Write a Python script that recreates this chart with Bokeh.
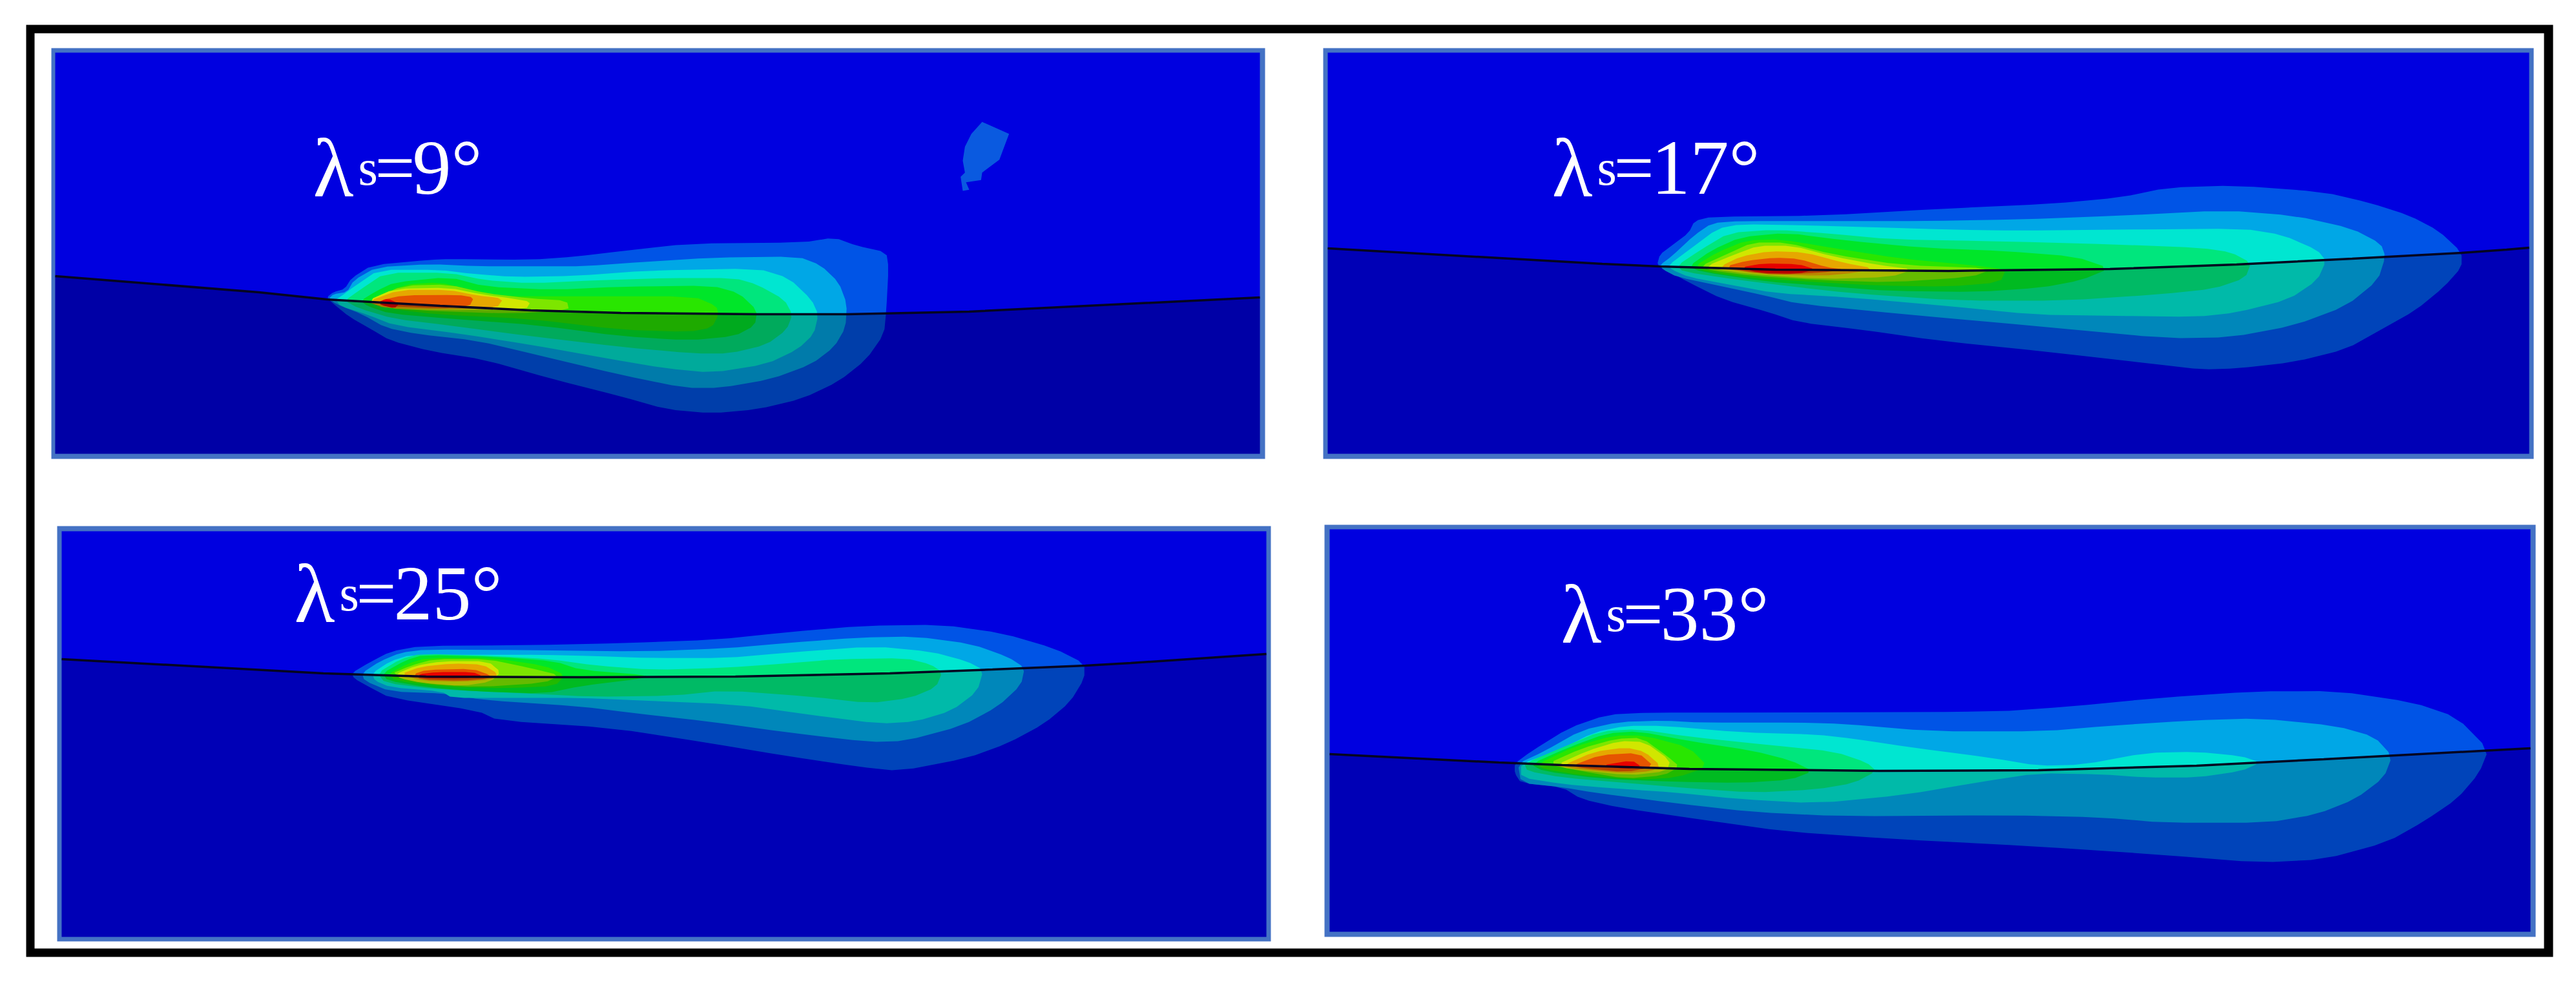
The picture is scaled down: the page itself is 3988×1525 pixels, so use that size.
from bokeh.plotting import figure
from bokeh.models import Range1d
from bokeh.core.properties import value
from bokeh.embed import file_html
from bokeh.resources import INLINE

# Stress-level colours (outer to peak)
LEVEL_COLORS = ["#0054E6", "#00A7E6", "#00E6D1", "#00E67D", "#00E629", "#29E600",
                "#7DE600", "#D1E600", "#E6A700", "#E65400", "#E60000"]
BACKGROUND = "#0000E0"
BORDER = "#4472C4"

LABELS = ["9°", "17°", "25°", "33°"]

# Panel 1 (lambda_s = 9) contours
P1_L1 = [(150,390),(165,365),(190,350),(205,300),(250,240),(380,215),(420,212),(600,215),(700,200),(800,175),(950,140),(1200,135),(1270,112),(1320,150),(1385,180),(1390,250),(1385,450),(1380,560),(1340,680),(1280,780),(1200,860),(1100,910),(1000,928),(900,910),(800,850),(650,770),(500,680),(380,640),(290,590),(250,540),(200,480),(165,420)]
P1_L2 = [(155,395),(165,375),(195,365),(210,310),(260,250),(380,235),(480,245),(620,245),(720,245),(850,225),(1000,205),(1190,200),(1240,240),(1280,320),(1298,420),(1295,530),(1270,620),(1220,700),(1130,770),(1020,810),(940,810),(800,750),(620,660),(480,590),(350,560),(280,530),(230,470),(170,420)]
P1_L3 = [(170,400),(185,380),(210,340),(265,262),(400,262),(470,280),(560,295),(700,290),(860,265),(1100,255),(1170,300),(1220,400),(1235,470),(1225,560),(1190,630),(1120,700),(1000,740),(900,720),(760,670),(600,610),(450,560),(300,520),(240,470),(180,430)]
P1_L4 = [(190,405),(220,360),(280,275),(420,275),(500,310),(600,325),(750,310),(900,300),(1050,300),(1100,330),(1160,400),(1178,470),(1165,540),(1120,610),(1040,650),(960,650),(800,620),(600,570),(420,520),(300,490),(220,440)]
P1_L5 = [(225,405),(260,360),(300,320),(420,295),(500,340),(650,355),(800,340),(1000,335),(1060,370),(1100,450),(1095,520),(1050,570),(950,590),(800,570),(620,520),(430,490),(290,465),(240,430)]
P1_L6 = [(250,400),(320,330),(400,320),(460,350),(540,385),(700,385),(960,385),(1010,430),(1015,470),(1000,530),(950,550),(800,540),(600,490),(400,470),(280,440)]
P1_L7 = [(245,400),(320,335),(420,330),(500,370),(600,395),(680,405),(685,450),(560,465),(400,455),(290,440)]
P1_L8 = [(240,405),(300,350),(420,345),(490,375),(560,395),(600,410),(590,445),(400,450),(280,440)]
P1_L9 = [(240,410),(310,355),(420,355),(480,380),(540,395),(525,440),(400,445),(280,440)]
P1_L10 = [(265,405),(320,380),(440,378),(475,390),(465,432),(400,440),(280,430)]
P1_L11 = [(265,410),(285,395),(310,420),(300,440),(270,425)]
P1_BLOB = [(240,85),(365,140),(320,260),(240,320),(235,355),(165,365),(180,400),(150,405),(140,340),(160,320),(150,265),(160,200),(190,140)]

# Panel 2 (lambda_s = 17)
P2_L1 = [(95,330),(100,280),(120,240),(150,180),(160,125),(190,105),(380,100),(590,68),(780,45),(900,15),(980,-30),(1100,-40),(1250,-10),(1330,40),(1400,100),(1450,170),(1490,270),(1490,340),(1460,430),(1410,540),(1350,630),(1290,720),(1200,780),(1100,810),(1040,815),(960,790),(780,735),(580,680),(450,630),(340,595),(290,550),(210,490),(150,410),(110,350)]
P2_L2 = [(100,330),(120,290),(160,190),(190,135),(240,125),(420,125),(560,125),(720,118),(900,100),(1080,75),(1200,100),(1300,160),(1350,230),(1358,290),(1345,400),(1290,520),(1200,610),(1090,665),(980,670),(760,615),(530,560),(340,510),(280,470),(210,430),(130,385),(105,350)]
P2_L3 = [(115,330),(150,260),(200,160),(240,140),(350,145),(480,155),(600,165),(720,170),(900,165),(1110,160),(1180,190),(1240,260),(1255,310),(1240,400),(1190,490),(1100,550),(1030,570),(880,565),(750,560),(600,520),(430,480),(300,460),(220,420),(150,385),(120,350)]
P2_L4 = [(130,332),(170,260),(220,180),(300,165),(400,185),(500,210),(700,220),(900,235),(1040,250),(1090,270),(1125,320),(1115,390),(1060,440),(970,465),(800,495),(620,495),(430,460),(330,430),(240,400),(140,360)]
P2_L5 = [(150,335),(190,260),(240,200),(320,180),(420,215),(560,250),(700,265),(820,290),(880,345),(830,400),(760,435),(650,455),(500,450),(400,430),(280,405),(170,360)]
P2_L6 = [(160,335),(200,270),(250,215),(310,210),(400,250),(520,300),(640,330),(700,350),(690,410),(600,430),(480,425),(380,410),(260,390),(180,360)]
P2_L7 = [(170,335),(215,280),(260,225),(320,225),(400,280),(520,330),(680,345),(640,385),(500,410),(380,400),(260,380),(190,355)]
P2_L8 = [(180,335),(230,280),(270,240),(330,240),(400,290),(480,330),(540,350),(500,385),(380,395),(250,370),(200,350)]
P2_L9 = [(205,335),(240,290),(290,265),(350,270),(420,320),(470,345),(440,365),(380,380),(270,370),(220,350)]
P2_L10 = [(215,335),(250,310),(300,295),(340,300),(390,340),(420,350),(380,365),(300,375),(240,355)]
P2_L11 = [(240,340),(280,322),(340,325),(370,350),(340,370),(270,365)]

# Panel 3 (lambda_s = 25)
P3_L1 = [(55,335),(90,285),(130,235),(190,208),(400,205),(590,195),(760,180),(900,145),(1050,115),(1200,110),(1320,150),(1420,220),(1478,290),(1478,360),(1450,470),(1400,570),(1330,660),(1250,730),(1120,790),(1040,770),(900,720),(750,660),(560,590),(340,555),(300,510),(130,450),(90,400),(60,360)]
P3_L2 = [(75,335),(110,280),(150,240),(200,225),(400,228),(620,235),(780,220),(900,195),(1040,170),(1150,165),(1260,200),(1330,260),(1362,310),(1355,390),(1310,490),(1240,580),(1130,650),(1060,655),(900,610),(750,560),(600,520),(500,490),(310,460),(240,430),(130,420),(80,370)]
P3_L3 = [(95,335),(130,280),(170,250),(300,250),(430,250),(520,255),(640,265),(780,265),(900,240),(1070,210),(1180,235),(1250,280),(1282,320),(1270,420),(1220,510),(1150,560),(1080,570),(950,530),(800,480),(600,460),(500,450),(370,450),(250,450),(230,420),(130,400),(100,370)]
P3_L4 = [(105,335),(150,270),(190,245),(330,255),(440,270),(530,300),(640,320),(780,310),(900,290),(1000,270),(1130,265),(1180,295),(1202,330),(1190,400),(1140,450),(1060,475),(950,445),(780,415),(680,440),(520,445),(400,430),(220,410),(120,380)]
P3_L5 = [(115,335),(160,275),(195,250),(340,260),(450,280),(500,320),(630,345),(620,360),(500,395),(430,430),(300,420),(200,400),(125,370)]
P3_L6 = [(125,340),(165,290),(200,265),(330,265),(430,300),(470,345),(450,395),(360,405),(240,400),(140,370)]
P3_L7 = [(130,340),(170,300),(215,270),(320,270),(400,310),(460,345),(430,380),(300,400),(200,385)]
P3_L8 = [(140,340),(180,300),(230,280),(320,280),(345,330),(325,375),(270,395),(190,380),(150,360)]
P3_L9 = [(150,340),(190,305),(250,290),(310,295),(340,340),(325,365),(270,375),(190,370)]
P3_L10 = [(175,340),(200,320),(290,315),(325,345),(320,360),(270,370),(190,365)]
P3_L11 = [(185,340),(220,330),(290,330),(310,350),(270,360),(190,358)]

# Panel 4 (lambda_s = 33)
P4_L1 = [(25,455),(50,400),(110,290),(170,228),(240,218),(400,218),(780,215),(900,190),(1040,150),(1190,120),(1320,118),(1440,170),(1510,240),(1560,390),(1545,500),(1510,620),(1460,720),(1400,820),(1300,900),(1200,915),(1050,880),(850,840),(620,805),(450,770),(330,720),(190,660),(130,620),(100,565),(35,545),(25,500)]
P4_L2 = [(30,455),(70,400),(130,300),(190,262),(260,255),(320,265),(480,265),(540,270),(680,305),(860,305),(960,280),(1090,255),(1200,245),(1320,280),(1380,330),(1408,420),(1395,520),(1350,620),(1290,690),(1210,730),(1050,730),(950,705),(800,695),(540,700),(400,680),(280,640),(150,590),(100,565),(35,545)]
P4_L3 = [(35,455),(90,400),(150,310),(200,280),(260,280),(380,310),(500,320),(560,340),(650,380),(780,430),(850,465),(920,460),(1020,405),(1100,400),(1170,420),(1200,450),(1170,490),(1100,520),(1020,520),(950,505),(850,500),(760,540),(640,600),(500,640),(380,620),(280,590),(180,570),(100,550),(35,520)]
P4_L4 = [(40,455),(100,380),(160,305),(220,295),(300,330),(430,370),(530,400),(580,450),(595,490),(560,545),(500,575),(400,590),(300,570),(200,545),(100,520),(45,490)]
P4_L5 = [(50,458),(110,380),(170,315),(220,305),(300,350),(400,395),(460,440),(495,490),(460,530),(380,545),(280,540),(160,525),(70,490)]
P4_L6 = [(60,458),(120,375),(180,325),(230,325),(300,380),(330,470),(280,520),(220,530),(130,510),(70,480)]
P4_L7 = [(75,458),(130,385),(185,340),(225,335),(265,420),(285,470),(260,510),(200,525),(130,490)]
P4_L8 = [(90,462),(140,395),(190,350),(230,355),(270,440),(265,490),(205,510),(110,480)]
P4_L9 = [(100,465),(150,400),(200,380),(230,400),(255,465),(240,490),(200,500),(120,480)]
P4_L10 = [(115,465),(160,415),(220,405),(245,470),(200,495),(130,475)]
P4_L11 = [(160,465),(210,440),(225,470),(200,480)]

# Tool-surface curves (picture pixels)
P1_SURFACE = [(85,427),(400,452),(505,463),(681,473),(821,480),(961,484),(1172,486),(1312,486),(1500,482),(1950,460)]
P2_SURFACE = [(2055,384),(2480,408),(2569,412),(2748,417),(3016,419),(3266,416),(3462,409),(3641,400),(3810,391),(3880,386),(3915,383)]
P3_SURFACE = [(95,1020),(500,1042),(659,1047),(899,1048),(1138,1047),(1377,1042),(1536,1036),(1680,1030),(1750,1026),(1960,1012)]
P4_SURFACE = [(2058,1167),(2320,1180),(2418,1184),(2615,1190),(2909,1193),(3155,1192),(3400,1185),(3597,1175),(3860,1161),(3917,1158)]

P1 = [P1_L1,P1_L2,P1_L3,P1_L4,P1_L5,P1_L6,P1_L7,P1_L8,P1_L9,P1_L10,P1_L11]
P2 = [P2_L1,P2_L2,P2_L3,P2_L4,P2_L5,P2_L6,P2_L7,P2_L8,P2_L9,P2_L10,P2_L11]
P3 = [P3_L1,P3_L2,P3_L3,P3_L4,P3_L5,P3_L6,P3_L7,P3_L8,P3_L9,P3_L10,P3_L11]
P4 = [P4_L1,P4_L2,P4_L3,P4_L4,P4_L5,P4_L6,P4_L7,P4_L8,P4_L9,P4_L10,P4_L11]


def rounded(pts, n=1):
    # corner cutting, so the read-off outlines draw as smooth contours
    for _ in range(n):
        out = []
        for i, (a, b) in enumerate(pts):
            c, d = pts[(i + 1) % len(pts)]
            out += [(0.8*a + 0.2*c, 0.8*b + 0.2*d), (0.2*a + 0.8*c, 0.2*b + 0.8*d)]
        pts = out
    return pts


W, H = 3972, 1509
p = figure(width=W, height=H, x_range=Range1d(0, W), y_range=Range1d(H, 0),
           toolbar_location=None, output_backend="svg", min_border=0,
           x_axis_type=None, y_axis_type=None, outline_line_color=None,
           background_fill_color="white", border_fill_color="white")
p.grid.visible = False

# outer frame
p.quad(left=[40], right=[3952], top=[38], bottom=[1481], fill_color="black", line_color=None)
p.quad(left=[53], right=[3938], top=[51], bottom=[1468], fill_color="white", line_color=None)

panels = [
    dict(o=(79,1958,74,710),   i=(85,1950,81,702),    org=(400,330,1568/1100), lv=P1, s=P1_SURFACE, a=0.26, lab=(484,301)),
    dict(o=(2048,3922,74,710), i=(2055,3915,81,702),  org=(2480,300,1568/1400), lv=P2, s=P2_SURFACE, a=0.19, lab=(2402,301)),
    dict(o=(88,1967,814,1457), i=(95,1960,822,1450),  org=(500,930,1568/1250), lv=P3, s=P3_SURFACE, a=0.19, lab=(455,960)),
    dict(o=(2050,3925,812,1450), i=(2058,3917,819,1442), org=(2320,1030,1568/1540), lv=P4, s=P4_SURFACE, a=0.19, lab=(2416,992)),
]

TEXT_SHIFT = -42
font = value("Liberation Serif")
for k, d in enumerate(panels):
    ol, or_, ot, ob = d["o"]
    il, ir, it, ib = d["i"]
    p.quad(left=[ol], right=[or_], top=[ot], bottom=[ob], fill_color=BORDER, line_color=None)
    p.quad(left=[il], right=[ir], top=[it], bottom=[ib], fill_color=BACKGROUND, line_color=None)
    x0, y0, sx = d["org"]
    for lev, color in zip(d["lv"], LEVEL_COLORS):
        pts = rounded(lev)
        p.patch([x0 + a/sx for a, b in pts], [y0 + b/3 for a, b in pts],
                fill_color=color, line_color=None)
    if k == 0:
        p.patch([1440 + a/3 for a, b in P1_BLOB], [160 + b/3 for a, b in P1_BLOB],
                fill_color="#0A5AE0", line_color=None)
    sx_, sy_ = zip(*d["s"])
    p.patch(list(sx_) + [ir, il], list(sy_) + [ib, ib], fill_color="black",
            fill_alpha=d["a"], line_color=None)
    p.line(list(sx_), list(sy_), line_color="#050520", line_width=3.5)
    lx, ly = d["lab"]
    ly += TEXT_SHIFT
    p.text([lx], [ly], text=["λ"], text_font=font, text_font_size="130px", text_color="white",
           text_baseline="alphabetic", text_align="left")
    p.text([lx+70], [ly], text=["s"], text_font=font, text_font_size="78px", text_color="white",
           text_baseline="alphabetic", text_align="left")
    p.text([lx+96], [ly], text=["="], text_font=font, text_font_size="110px", text_color="white",
           text_baseline="alphabetic", text_align="left")
    p.text([lx+154], [ly], text=[LABELS[k]], text_font=font, text_font_size="120px", text_color="white",
           text_baseline="alphabetic", text_align="left")

open("out.html", "w").write(file_html(p, INLINE))
